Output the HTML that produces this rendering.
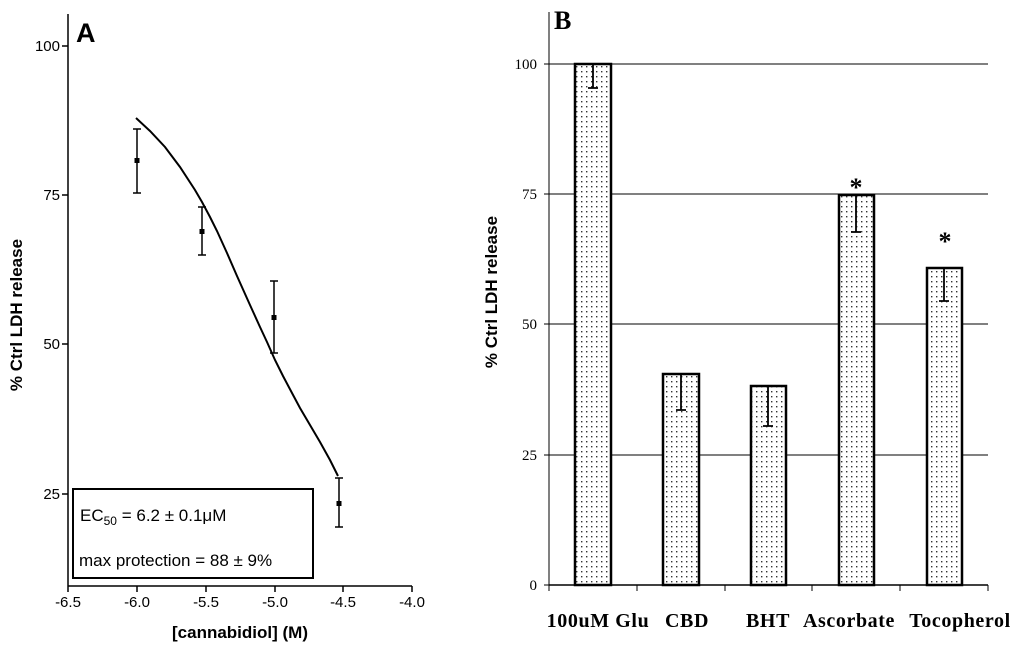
<!DOCTYPE html>
<html><head><meta charset="utf-8"><style>
html,body{margin:0;padding:0;background:#fff;}
svg{display:block;}
.s{font-family:"Liberation Sans",sans-serif;}
.r{font-family:"Liberation Serif",serif;}
</style></head><body>
<svg width="1024" height="649" viewBox="0 0 1024 649" xmlns="http://www.w3.org/2000/svg">
<defs>
<pattern id="dots" width="5" height="5" patternUnits="userSpaceOnUse">
<rect width="5" height="5" fill="#fff"/>
<rect x="1" y="1" width="1.4" height="1.4" fill="#333"/>
</pattern>
</defs>
<rect width="1024" height="649" fill="#fff"/>
<!-- Panel A -->
<g stroke="#000" stroke-width="1.5" fill="none">
<line x1="68" y1="14" x2="68" y2="586"/>
<line x1="68" y1="586" x2="412" y2="586"/>
<line x1="62" y1="46" x2="68" y2="46"/>
<line x1="62" y1="195" x2="68" y2="195"/>
<line x1="62" y1="344" x2="68" y2="344"/>
<line x1="62" y1="494" x2="68" y2="494"/>
<line x1="68" y1="586" x2="68" y2="592"/>
<line x1="137" y1="586" x2="137" y2="592"/>
<line x1="206" y1="586" x2="206" y2="592"/>
<line x1="275" y1="586" x2="275" y2="592"/>
<line x1="343" y1="586" x2="343" y2="592"/>
<line x1="412" y1="586" x2="412" y2="592"/>
<polyline stroke-width="2" points="136,118 150,131 165,147 180,167 195,190 202,202 210,217 217,231 227,253 237,276 250,305 260,327 267,342 275,360 283,376 292,393 300,408 310,425 320,442 330,460 338,476"/>
<!-- error bars -->
<path d="M137,129 V193 M133,129 H141 M133,193 H141
M202,207 V255 M198,207 H206 M198,255 H206
M274,281 V353 M270,281 H278 M270,353 H278
M339,478 V527 M335,478 H343 M335,527 H343"/>
<rect x="73" y="489" width="240" height="89" stroke-width="2"/>
</g>
<g fill="#000">
<rect x="134.5" y="158" width="5" height="5"/>
<rect x="199.5" y="229" width="5" height="5"/>
<rect x="271.5" y="315" width="5" height="5"/>
<rect x="336.5" y="501" width="5" height="5"/>
</g>
<g class="s" font-size="15" fill="#000" text-anchor="end">
<text x="60" y="51">100</text>
<text x="60" y="200">75</text>
<text x="60" y="349">50</text>
<text x="60" y="499">25</text>
</g>
<g class="s" font-size="15" fill="#000" text-anchor="middle">
<text x="68" y="607">-6.5</text>
<text x="137" y="607">-6.0</text>
<text x="206" y="607">-5.5</text>
<text x="275" y="607">-5.0</text>
<text x="343" y="607">-4.5</text>
<text x="412" y="607">-4.0</text>
</g>
<text class="s" x="240" y="638" font-size="17" font-weight="bold" text-anchor="middle">[cannabidiol] (M)</text>
<text class="s" transform="translate(22,315) rotate(-90)" font-size="17" font-weight="bold" text-anchor="middle">% Ctrl LDH release</text>
<text class="s" x="76" y="42" font-size="27" font-weight="bold">A</text>
<text class="s" x="80" y="521" font-size="17">EC<tspan font-size="12" dy="4">50</tspan><tspan dy="-4"> = 6.2 ± 0.1μM</tspan></text>
<text class="s" x="79" y="566" font-size="17">max protection = 88 ± 9%</text>
<!-- Panel B -->
<g stroke="#000" stroke-width="1">
<line x1="549" y1="12" x2="549" y2="585"/>
<line x1="549" y1="64" x2="988" y2="64"/>
<line x1="549" y1="194" x2="988" y2="194"/>
<line x1="549" y1="324" x2="988" y2="324"/>
<line x1="549" y1="455" x2="988" y2="455"/>
<line x1="549" y1="585" x2="988" y2="585" stroke-width="1.5"/>
<line x1="544" y1="64" x2="549" y2="64"/>
<line x1="544" y1="194" x2="549" y2="194"/>
<line x1="544" y1="324" x2="549" y2="324"/>
<line x1="544" y1="455" x2="549" y2="455"/>
<line x1="544" y1="585" x2="549" y2="585"/>
<line x1="549" y1="585" x2="549" y2="591"/>
<line x1="637" y1="585" x2="637" y2="591"/>
<line x1="725" y1="585" x2="725" y2="591"/>
<line x1="812" y1="585" x2="812" y2="591"/>
<line x1="900" y1="585" x2="900" y2="591"/>
<line x1="988" y1="585" x2="988" y2="591"/>
</g>
<g stroke="#000" stroke-width="2.5" fill="url(#dots)">
<rect x="575" y="64" width="36" height="521"/>
<rect x="663" y="374" width="36" height="211"/>
<rect x="751" y="386" width="35" height="199"/>
<rect x="839" y="195" width="35" height="390"/>
<rect x="927" y="268" width="35" height="317"/>
</g>
<g stroke="#000" stroke-width="1.8" fill="none">
<path d="M593,64 V88 M588,88 H598
M681,374 V410 M676,410 H686
M768,386 V426 M763,426 H773
M856,195 V232 M851,232 H861
M944,268 V301 M939,301 H949"/>
</g>
<g class="r" font-size="26" font-weight="bold" text-anchor="middle">
<text x="856" y="196">*</text>
<text x="945" y="250">*</text>
</g>
<g class="r" font-size="15" fill="#000" text-anchor="end">
<text x="537" y="69">100</text>
<text x="537" y="199">75</text>
<text x="537" y="329">50</text>
<text x="537" y="460">25</text>
<text x="537" y="590">0</text>
</g>
<g class="r" font-size="20" font-weight="bold" fill="#000" text-anchor="middle" letter-spacing="0.6">
<text x="598" y="627">100uM Glu</text>
<text x="687" y="627">CBD</text>
<text x="768" y="627">BHT</text>
<text x="849" y="627">Ascorbate</text>
<text x="960" y="627">Tocopherol</text>
</g>
<text class="s" transform="translate(497,292) rotate(-90)" font-size="17" font-weight="bold" text-anchor="middle">% Ctrl LDH release</text>
<text class="r" x="554" y="29" font-size="26" font-weight="bold">B</text>
</svg>
</body></html>
